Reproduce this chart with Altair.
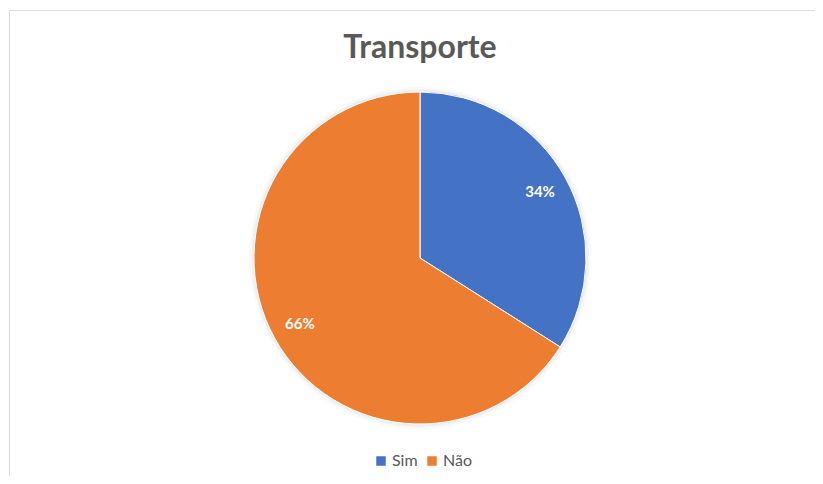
import altair as alt
import pandas as pd

titulo = "Transporte"
categorias = ["Sim", "Não"]
valores = [34, 66]
rotulos = ["34%", "66%"]
cores = ["#4472C4", "#ED7D31"]

df = pd.DataFrame({
    "categoria": categorias,
    "valor": valores,
    "rotulo": rotulos,
    "ordem": list(range(len(categorias))),
})

CX, CY = 411, 248

base = alt.Chart(df).encode(
    theta=alt.Theta("valor:Q", stack=True),
    order=alt.Order("ordem:Q"),
    x=alt.value(CX),
    y=alt.value(CY),
)

shadow1 = base.mark_arc(outerRadius=171, color="#000000", opacity=0.025)
shadow2 = base.mark_arc(outerRadius=168.5, color="#000000", opacity=0.04)

pie = base.mark_arc(outerRadius=166, stroke="white", strokeWidth=1).encode(
    color=alt.Color(
        "categoria:N",
        scale=alt.Scale(domain=categorias, range=cores),
        sort=categorias,
        legend=alt.Legend(
            title=None,
            orient="none",
            legendX=364,
            legendY=443,
            direction="horizontal",
            symbolType="square",
            symbolSize=90,
            symbolStrokeWidth=0,
            labelFontSize=16,
            labelColor="#595959",
            labelFont="Lato",
            padding=0,
            columnPadding=6,
            labelOffset=3,
        ),
    )
)

texto = base.mark_text(
    radius=137, font="Lato", fontSize=15, fontWeight="bold", color="white"
).encode(text="rotulo:N")

titulo_layer = alt.Chart(pd.DataFrame({"t": [titulo]})).mark_text(
    font="Lato", fontSize=32, fontWeight="bold", color="#595959", baseline="middle"
).encode(text="t:N", x=alt.value(CX), y=alt.value(38))

chart = alt.layer(shadow1, shadow2, pie, texto, titulo_layer).properties(
    width=806,
    height=466,
    autosize=alt.AutoSizeParams(type="none"),
    padding={"left": 1, "top": 2, "right": 0, "bottom": 0},
).configure_view(
    stroke="#d9d9d9", strokeWidth=1, fill="#f9f9f9"
).configure(background="white")

chart.save("out.html", embed_options={"renderer": "svg", "actions": False})
